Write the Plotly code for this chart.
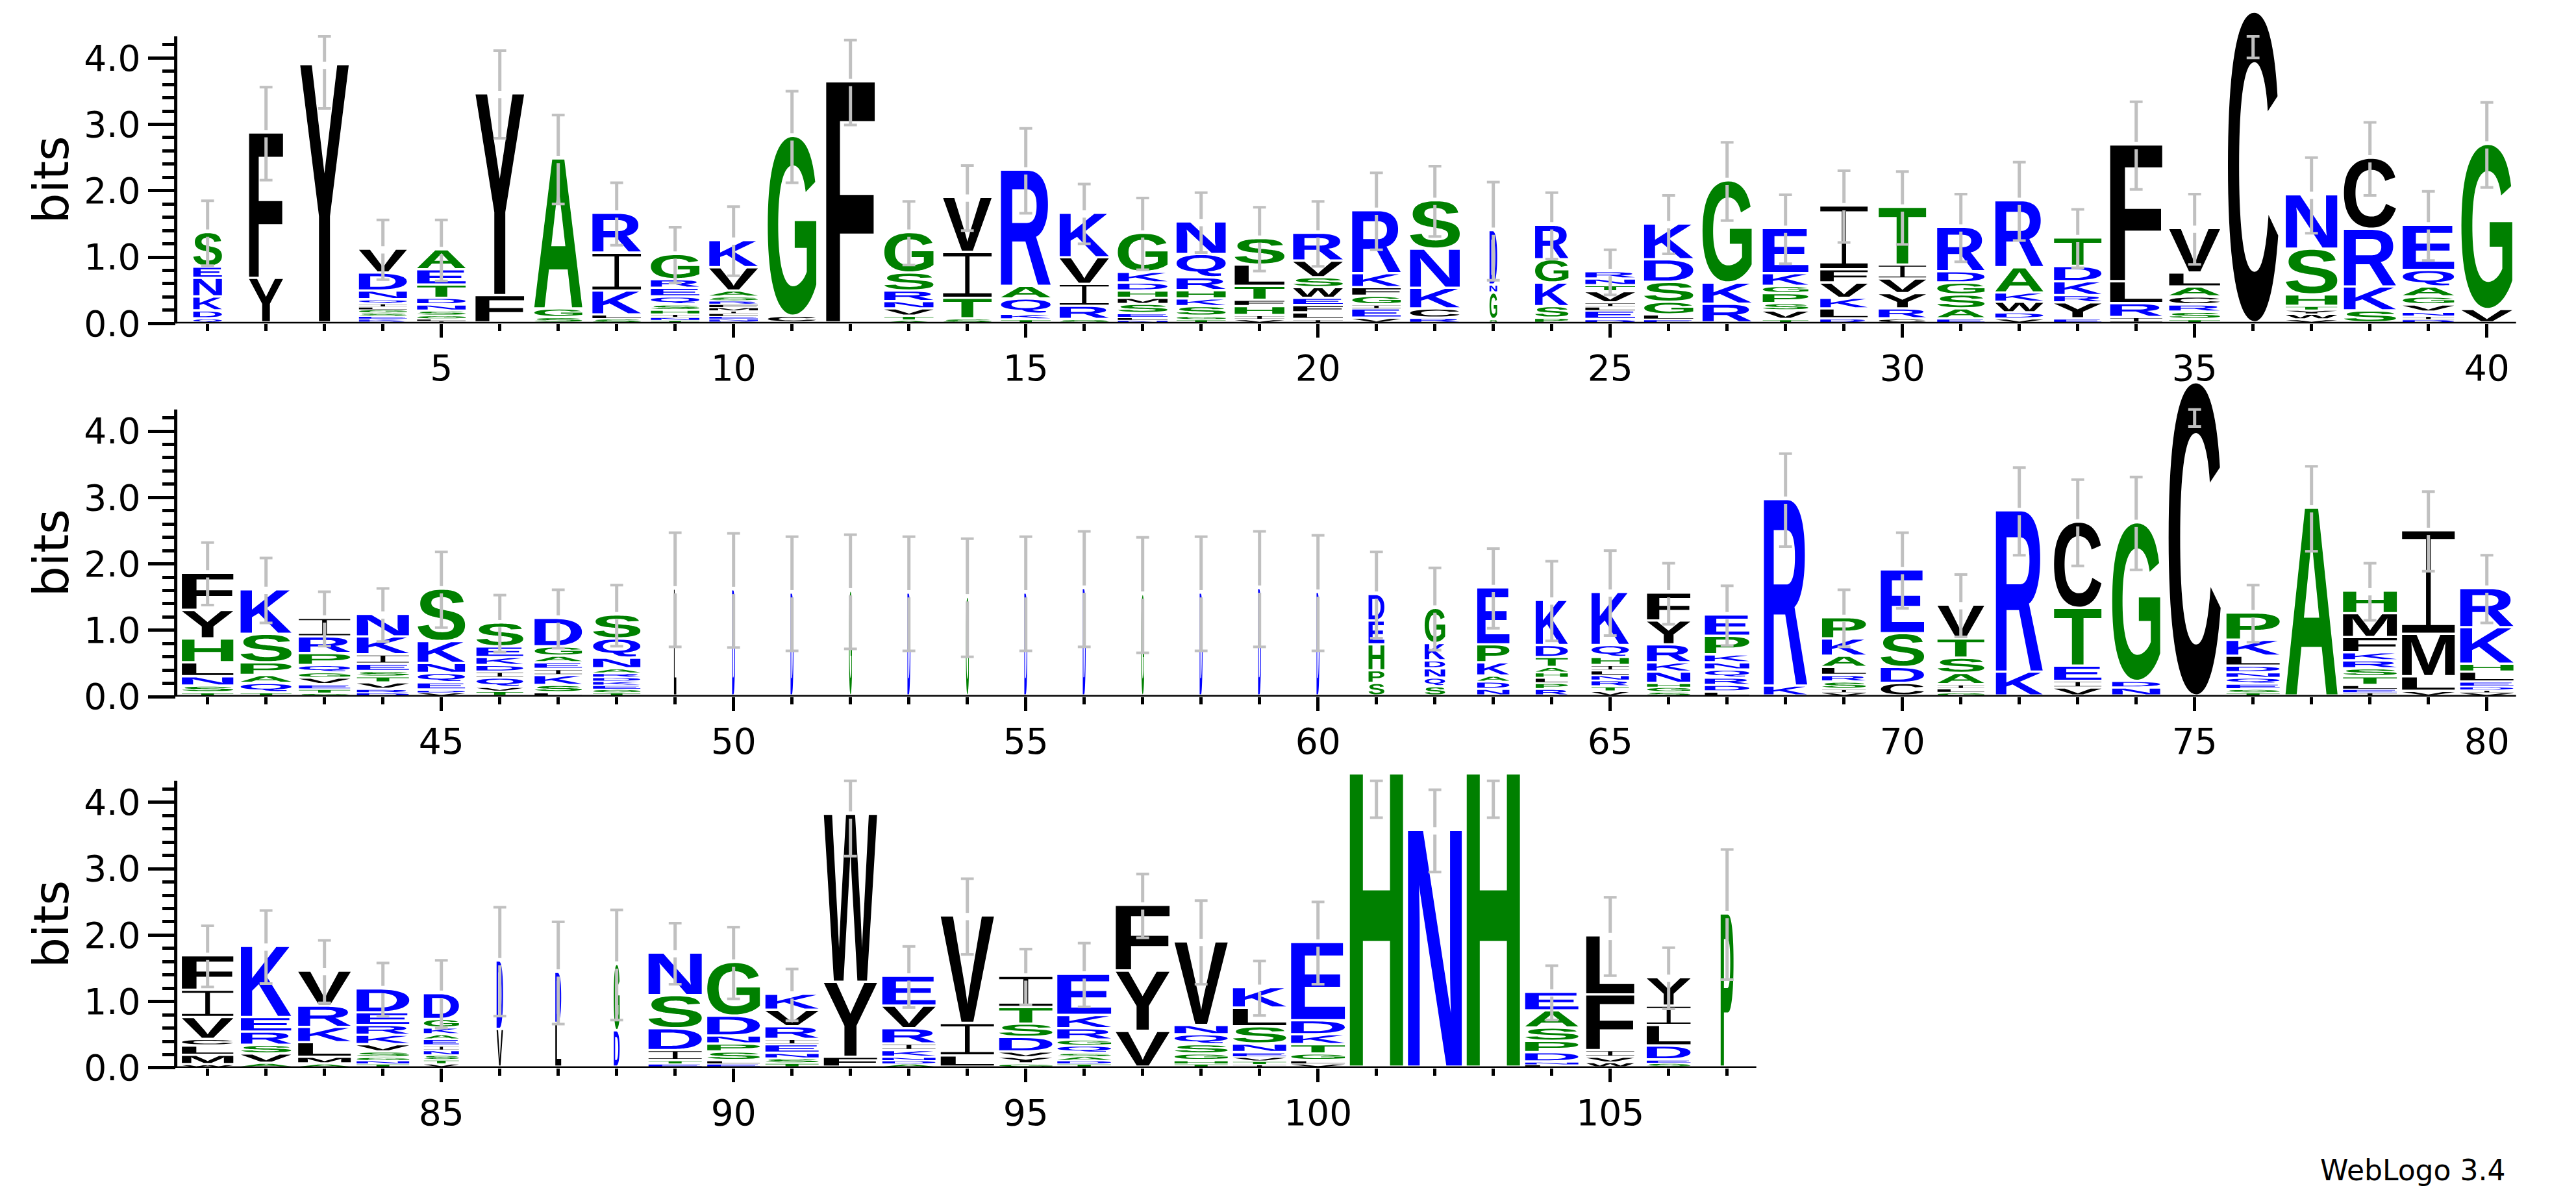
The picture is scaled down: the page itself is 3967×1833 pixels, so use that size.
import glob
import os
import struct
import plotly.graph_objects as go

# ------------------------------------------------------------------ data
positions = list(range(1, 108))

# letters of each stack, bottom -> top
stack_letters = [
    "QDKNES", "YF", "Y", "RKESGLIQNDV", "ILGSNDTEA", "FY", "SGA", "SLKIR", "TNIHSQERG", "DNELIMFRSAVK",
    "CG", "F", "ATVNRSG", "STIV", "TKQAR", "SRIVK", "NLESMHDKG", "TGSKHRQN", "VIHFTLS", "ILFEWSVR",
    "VEIGFKR", "RCKNS", "SGND", "PSKGR", "DELIVTNR", "ELGSDK", "RKG", "TVSPGKE", "RLKVFI", "CRYVIT",
    "EASGDR", "VDWKAR", "EYRKDT", "IRLF", "TSRCALV", "C", "VWYTHSN", "SKRC", "DINVGAQE", "VG",
    "TSNLHYF", "TQAPSK", "STEVGQPRI", "DRVTSEIKN", "VDEQNKS", "TVQIDKES", "LSKIEAGD", "TGEKDRANQS", "L", "D",
    "D", "G", "D", "G", "D", "D", "G", "D", "D", "D",
    "SPHED", "SQNDKG", "NDAKPE", "RPLHATDK", "VTRNLIHQK", "SGHNKRYF", "LDRQNKPE", "KR", "VISRLAKP", "CDSE",
    "GLIASTV", "KR", "VIETC", "NDG", "C", "TSEQNDLKP", "A", "IELTSRKFMH", "VLMI", "VIDELHKR",
    "WMLCVIF", "AVSREK", "AMLKRV", "TNGSVKRED", "VTSNIEAKGD", "VD", "LD", "DG", "ETIDSN", "ELSPNDG",
    "TSNEIRVK", "FYW", "ADNKIRVE", "LIV", "GYVDSTI", "TDASQGRKE", "VYF", "THGSQNV", "ITVENSLK", "VLGTKDE",
    "H", "N", "H", "LNDPSAE", "WVIFL", "SEDLIY", "P",
]

# letter heights in bits, bottom -> top
stack_heights = [
    [.06, .12, .21, .28, .17, .52], [.67, 2.19], [3.89],
    [.03, .03, .04, .05, .05, .04, .05, .06, .13, .27, .36], [.03, .03, .05, .07, .09, .10, .20, .23, .30],
    [.41, 3.04], [.08, .13, 2.26], [.06, .06, .36, .57, .60], [.04, .04, .05, .06, .08, .12, .13, .13, .38],
    [.03, .03, .04, .04, .04, .05, .05, .05, .06, .09, .35, .41],
    [.10, 2.71], [3.63], [.04, .06, .11, .11, .16, .27, .61], [.06, .31, .69, .83], [.05, .08, .23, .19, 1.75],
    [.05, .20, .33, .40, .67], [.04, .04, .06, .14, .09, .11, .12, .16, .59],
    [.05, .05, .145, .115, .125, .195, .35, .49], [.05, .06, .135, .095, .21, .32, .40],
    [.05, .10, .11, .11, .16, .15, .25, .42],
    [.07, .14, .06, .13, .13, .21, .95], [.07, .14, .31, .59, .73], [.05, .40, .12, .82],
    [.07, .175, .355, .35, .52], [.05, .13, .06, .06, .17, .09, .10, .11], [.05, .07, .19, .30, .34, .54],
    [.28, .32, 1.54], [.05, .13, .11, .15, .11, .19, .68], [.06, .15, .16, .23, .20, .96],
    [.06, .15, .23, .22, .21, .87],
    [.06, .15, .21, .18, .17, .67], [.06, .09, .16, .14, .38, 1.01], [.06, .24, .11, .21, .23, .43],
    [.08, .21, .33, 2.06], [.05, .11, .11, .12, .15, .21, .67], [4.68], [.05, .08, .06, .06, .17, .69, .82],
    [.18, .36, .87, 1.07], [.05, .05, .06, .11, .12, .15, .25, .68], [.20, 2.49],
    [.05, .10, .14, .21, .36, .43, .56], [.05, .14, .12, .19, .43, .67],
    [.04, .06, .07, .10, .08, .11, .18, .25, .28], [.05, .05, .10, .09, .08, .11, .14, .27, .34],
    [.05, .04, .11, .14, .15, .33, .79], [.07, .06, .14, .09, .10, .12, .16, .36],
    [.05, .11, .15, .09, .10, .10, .14, .43], [.05, .05, .06, .06, .06, .06, .07, .16, .29, .36],
    [1.61], [1.60],
    [1.55], [1.58], [1.55], [1.49], [1.55], [1.62], [1.53], [1.55], [1.62], [1.56],
    [.19, .19, .39, .36, .40], [.14, .13, .14, .12, .26, .53], [.10, .11, .09, .20, .27, .86],
    [.10, .09, .08, .08, .08, .15, .18, .68], [.07, .07, .09, .08, .07, .08, .12, .18, .80],
    [.06, .07, .06, .17, .14, .27, .36, .42], [.06, .10, .11, .12, .11, .12, .28, .32], [.15, 2.81],
    [.05, .05, .11, .10, .12, .17, .26, .32], [.19, .24, .51, .96],
    [.05, .06, .06, .17, .23, .29, .51], [.36, 2.43], [.12, .10, .23, .87, 1.30], [.12, .10, 2.39], [4.72],
    [.05, .05, .08, .09, .08, .10, .15, .24, .41], [2.83], [.05, .05, .06, .13, .12, .12, .12, .23, .36, .34],
    [.07, .22, .64, 1.56], [.05, .04, .05, .07, .15, .12, .55, .59],
    [.04, .14, .14, .10, .33, .41, .52], [.06, .14, .13, .20, .22, 1.07], [.05, .10, .22, .23, .32, .53],
    [.05, .05, .05, .08, .11, .14, .15, .19, .36], [.05, .06, .07, .07, .07, .10, .07, .10, .13, .39],
    [.57, 1.03], [.66, .77], [.55, 1.00], [.05, .05, .15, .33, .50, .64], [.05, .05, .13, .12, .12, .30, .81],
    [.06, .07, .08, .13, .08, .19, .25, .24], [.15, 1.13, 2.53], [.05, .05, .05, .10, .10, .23, .34, .45],
    [.17, .49, 1.62], [.05, .10, .08, .22, .20, .25, .47], [.05, .05, .06, .05, .11, .09, .17, .20, .62],
    [.54, .91, .99], [.05, .05, .10, .14, .15, .14, 1.26], [.04, .05, .06, .07, .13, .26, .28, .31],
    [.05, .05, .10, .14, .15, .21, 1.18],
    [4.42], [3.57], [4.42], [.04, .04, .14, .17, .20, .26, .28], [.07, .08, .10, .84, .89],
    [.06, .05, .21, .31, .29, .43], [2.31],
]

# half-length of the error bar at each position (bits)
error_bars = [
    .49, .70, .65, .45, .46, .66, .67, .47, .42, .52,
    .69, .64, .48, .49, .64, .45, .54, .45, .48, .49,
    .58, .53, .74, .50, .34, .44, .59, .52, .54, .55,
    .51, .59, .44, .66, .53, .68, .57, .55, .52, .64,
    .47, .49, .41, .40, .57, .43, .44, .46, .86, .86,
    .86, .86, .86, .89, .86, .87, .87, .86, .87, .87,
    .65, .62, .60, .60, .64, .46, .45, .70, .43, .57,
    .47, .66, .65, .70, .65, .43, .64, .43, .60, .51,
    .46, .55, .47, .40, .51, .82, .77, .83, .46, .54,
    .39, .62, .46, .57, .42, .48, .48, .63, .41, .62,
    .65, .62, .65, .41, .59, .46, .98,
]

# stack width (fraction of one position) - scaled by occupancy
column_widths = [
    .49, .58, .83, .82, .83, .83, .82, .83, .83, .83,
    .83, .83, .84, .83, .85, .84, .85, .84, .85, .85,
    .83, .85, .13, .57, .85, .84, .84, .78, .81, .81,
    .81, .82, .81, .89, .87, .86, .88, .89, .88, .87,
    .88, .87, .88, .89, .81, .80, .81, .81, .04, .05,
    .05, .05, .05, .05, .05, .05, .05, .05, .05, .05,
    .27, .35, .55, .55, .64, .74, .76, .74, .75, .74,
    .80, .80, .81, .82, .89, .91, .89, .92, .90, .91,
    .88, .86, .90, .90, .60, .11, .10, .10, .91, .90,
    .91, .91, .91, .91, .91, .92, .92, .91, .91, .92,
    .91, .92, .91, .91, .82, .75, .22,
]

row_ranges = [(1, 40), (41, 80), (81, 107)]
y_ticks = [0, 1, 2, 3, 4]
y_tick_text = ["0.0", "1.0", "2.0", "3.0", "4.0"]
y_minor_ticks = [0.2, 0.4, 0.6, 0.8, 1.2, 1.4, 1.6, 1.8, 2.2, 2.4, 2.6, 2.8, 3.2, 3.4, 3.6, 3.8, 4.2]
max_bits = 4.325

# ------------------------------------------------------------------ styling
BLACK, BLUE, GREEN = "#000000", "#0000FF", "#008000"
ERR_GRAY = "#C0C0C0"
color_of = {}
for ch in "FYVILCWM":
    color_of[ch] = BLACK
for ch in "KRDENQ":
    color_of[ch] = BLUE
for ch in "STGAHP":
    color_of[ch] = GREEN

AXIS_FONT = "DejaVu Sans"


# ------------------------------------------------------------------ glyph outlines (from an installed bold sans font)
def find_font():
    pats = [
        "/usr/share/fonts/**/LiberationSans-Bold.ttf",
        "/usr/local/share/fonts/**/LiberationSans-Bold.ttf",
        "/usr/share/fonts/**/Arimo-Bold.ttf",
        "/usr/share/fonts/**/DejaVuSans-Bold.ttf",
        "/usr/share/fonts/**/Roboto-Bold.ttf",
    ]
    for pat in pats:
        found = sorted(glob.glob(pat, recursive=True))
        if found:
            return found[0]
    return None


def read_ttf(path, chars):
    d = open(path, "rb").read()
    base = 0
    if d[:4] == b"ttcf":
        base = struct.unpack(">I", d[12:16])[0]
    ntab = struct.unpack(">H", d[base + 4:base + 6])[0]
    tabs = {}
    for k in range(ntab):
        rec = base + 12 + 16 * k
        tag, _c, off, _l = struct.unpack(">4sIII", d[rec:rec + 16])
        tabs[tag] = off
    if b"glyf" not in tabs:
        return None
    head = tabs[b"head"]
    locfmt = struct.unpack(">h", d[head + 50:head + 52])[0]
    maxp = tabs[b"maxp"]
    ng = struct.unpack(">H", d[maxp + 4:maxp + 6])[0]
    lo = tabs[b"loca"]
    if locfmt == 0:
        loca = [2 * v for v in struct.unpack(">%dH" % (ng + 1), d[lo:lo + 2 * (ng + 1)])]
    else:
        loca = list(struct.unpack(">%dI" % (ng + 1), d[lo:lo + 4 * (ng + 1)]))
    glyf = tabs[b"glyf"]

    # cmap (format 4)
    cm = tabs[b"cmap"]
    nsub = struct.unpack(">H", d[cm + 2:cm + 4])[0]
    cmap = {}
    for k in range(nsub):
        pid, eid, off = struct.unpack(">HHI", d[cm + 4 + 8 * k:cm + 12 + 8 * k])
        st = cm + off
        fmt = struct.unpack(">H", d[st:st + 2])[0]
        if fmt != 4:
            continue
        segx2 = struct.unpack(">H", d[st + 6:st + 8])[0]
        seg = segx2 // 2
        ends = struct.unpack(">%dH" % seg, d[st + 14:st + 14 + segx2])
        starts = struct.unpack(">%dH" % seg, d[st + 16 + segx2:st + 16 + 2 * segx2])
        deltas = struct.unpack(">%dh" % seg, d[st + 16 + 2 * segx2:st + 16 + 3 * segx2])
        rpos = st + 16 + 3 * segx2
        roffs = struct.unpack(">%dH" % seg, d[rpos:rpos + segx2])
        for ch in chars:
            code = ord(ch)
            for s in range(seg):
                if starts[s] <= code <= ends[s]:
                    if roffs[s] == 0:
                        g = (code + deltas[s]) & 0xFFFF
                    else:
                        addr = rpos + 2 * s + roffs[s] + 2 * (code - starts[s])
                        g = struct.unpack(">H", d[addr:addr + 2])[0]
                        if g:
                            g = (g + deltas[s]) & 0xFFFF
                    cmap[ch] = g
                    break
        if cmap:
            break

    def outline(gid, depth=0):
        start = glyf + loca[gid]
        stop = glyf + loca[gid + 1]
        if stop <= start or depth > 4:
            return []
        nc = struct.unpack(">h", d[start:start + 2])[0]
        p = start + 10
        if nc < 0:
            out = []
            while True:
                fl, cg = struct.unpack(">HH", d[p:p + 4])
                p += 4
                if fl & 1:
                    a1, a2 = struct.unpack(">hh", d[p:p + 4])
                    p += 4
                else:
                    a1, a2 = struct.unpack(">bb", d[p:p + 2])
                    p += 2
                sx = sy = 1.0
                if fl & 8:
                    sx = sy = struct.unpack(">h", d[p:p + 2])[0] / 16384.0
                    p += 2
                elif fl & 0x40:
                    sx, sy = [v / 16384.0 for v in struct.unpack(">hh", d[p:p + 4])]
                    p += 4
                elif fl & 0x80:
                    vals = struct.unpack(">hhhh", d[p:p + 8])
                    p += 8
                    sx, sy = vals[0] / 16384.0, vals[3] / 16384.0
                dx, dy = (a1, a2) if fl & 2 else (0, 0)
                for c in outline(cg, depth + 1):
                    out.append([(x * sx + dx, y * sy + dy, on) for x, y, on in c])
                if not fl & 0x20:
                    break
            return out
        ends = struct.unpack(">%dH" % nc, d[p:p + 2 * nc])
        p += 2 * nc
        il = struct.unpack(">H", d[p:p + 2])[0]
        p += 2 + il
        npts = ends[-1] + 1
        flags = []
        while len(flags) < npts:
            f = d[p]
            p += 1
            flags.append(f)
            if f & 8:
                r = d[p]
                p += 1
                flags.extend([f] * r)
        flags = flags[:npts]
        xs, v = [], 0
        for f in flags:
            if f & 2:
                dv = d[p]
                p += 1
                v += dv if f & 16 else -dv
            elif not f & 16:
                v += struct.unpack(">h", d[p:p + 2])[0]
                p += 2
            xs.append(v)
        ys, v = [], 0
        for f in flags:
            if f & 4:
                dv = d[p]
                p += 1
                v += dv if f & 32 else -dv
            elif not f & 32:
                v += struct.unpack(">h", d[p:p + 2])[0]
                p += 2
            ys.append(v)
        out, s = [], 0
        for e in ends:
            out.append([(xs[i], ys[i], flags[i] & 1) for i in range(s, e + 1)])
            s = e + 1
        return out

    res = {}
    for ch in chars:
        if ch in cmap:
            res[ch] = outline(cmap[ch])
    return res


def flatten(contour, steps):
    if len(contour) < 2:
        return []
    start = None
    for i, (_x, _y, on) in enumerate(contour):
        if on:
            start = i
            break
    if start is None:
        x0 = (contour[0][0] + contour[1][0]) / 2.0
        y0 = (contour[0][1] + contour[1][1]) / 2.0
        contour = [(x0, y0, 1)] + contour[1:] + [contour[0]]
        start = 0
    seq = contour[start:] + contour[:start]
    out = [(seq[0][0], seq[0][1])]
    cur = (seq[0][0], seq[0][1])
    ctrl = None

    def quad(a, c, b):
        for k in range(1, steps + 1):
            t = k / float(steps)
            mt = 1 - t
            out.append((mt * mt * a[0] + 2 * mt * t * c[0] + t * t * b[0],
                        mt * mt * a[1] + 2 * mt * t * c[1] + t * t * b[1]))

    for x, y, on in seq[1:] + [seq[0]]:
        if on:
            if ctrl is None:
                out.append((x, y))
            else:
                quad(cur, ctrl, (x, y))
                ctrl = None
            cur = (x, y)
        else:
            if ctrl is None:
                ctrl = (x, y)
            else:
                mid = ((ctrl[0] + x) / 2.0, (ctrl[1] + y) / 2.0)
                quad(cur, ctrl, mid)
                cur = mid
                ctrl = (x, y)
    return out


def normalise(polys):
    polys = [p for p in polys if len(p) >= 3]
    if not polys:
        return [[(0, 0), (1, 0), (1, 1), (0, 1)]]
    xs = [x for p in polys for x, _ in p]
    ys = [y for p in polys for _, y in p]
    x0, x1, y0, y1 = min(xs), max(xs), min(ys), max(ys)
    w = (x1 - x0) or 1.0
    h = (y1 - y0) or 1.0
    return [[((x - x0) / w, (y - y0) / h) for x, y in p] for p in polys]


ALPHABET = "ACDEFGHIKLMNPQRSTVWY"
I_SHAPE = [[(0, 0), (1, 0), (1, .075), (.545, .075), (.545, .925), (1, .925), (1, 1), (0, 1),
            (0, .925), (.455, .925), (.455, .075), (0, .075)]]
glyph_hi, glyph_lo = {}, {}
raw = None
fpath = find_font()
if fpath:
    try:
        raw = read_ttf(fpath, ALPHABET)
    except Exception:
        raw = None
for ch in ALPHABET:
    if raw and raw.get(ch):
        glyph_hi[ch] = normalise([flatten(c, 10) for c in raw[ch]])
        glyph_lo[ch] = normalise([flatten(c, 3) for c in raw[ch]])
    else:
        glyph_hi[ch] = glyph_lo[ch] = [[(0, 0), (1, 0), (1, 1), (0, 1)]]
glyph_hi["I"] = glyph_lo["I"] = I_SHAPE

# ------------------------------------------------------------------ figure
W, H = 3967, 1833
x_dom_full = [262.6 / W, 3866.7 / W]
x_dom_short = [262.6 / W, 2696.7 / W]
y_doms = [[1 - 499.0 / H, 1.0], [1 - 1084.0 / H, 1 - 585.0 / H], [1 - 1666.0 / H, 1 - 1167.0 / H]]
y_top = 4.795

fig = go.Figure()
axis_ids = [("x", "y"), ("x2", "y2"), ("x3", "y3")]
gap = 0.055

for r, ((p_lo, p_hi), (xa, ya)) in enumerate(zip(row_ranges, axis_ids)):
    buckets = {BLACK: ([], []), BLUE: ([], []), GREEN: ([], [])}
    ex, ey, cx, cy = [], [], [], []
    for p in range(p_lo, p_hi + 1):
        i = positions.index(p)
        w = column_widths[i]
        x0, x1 = p - w / 2.0, p + w / 2.0
        base = 0.0
        for ch, h in zip(stack_letters[i], stack_heights[i]):
            pad = min(0.035, 0.35 * h)
            yb, yt = base + pad, base + h
            shapes = glyph_hi[ch] if h > 0.3 else glyph_lo[ch]
            bx, by = buckets[color_of[ch]]
            for poly in shapes:
                for u, v in poly:
                    bx.append(x0 + u * (x1 - x0))
                    by.append(yb + v * (yt - yb))
                bx.append(None)
                by.append(None)
            base += h
        top = base
        e = error_bars[i]
        lo_end, hi_end = top - e, min(top + e, max_bits)
        seg1_top = min(top - gap, max_bits)
        if seg1_top > lo_end:
            ex += [p, p, None]
            ey += [lo_end, seg1_top, None]
        if hi_end > top + gap:
            ex += [p, p, None]
            ey += [top + gap, hi_end, None]
        for yy in (lo_end, hi_end):
            cx += [p - 0.11, p + 0.11, None]
            cy += [yy, yy, None]
    for col, (bx, by) in buckets.items():
        fig.add_trace(go.Scatter(x=bx, y=by, mode="none", fill="toself", fillcolor=col,
                                 xaxis=xa, yaxis=ya, hoverinfo="skip", showlegend=False))
    fig.add_trace(go.Scatter(x=ex, y=ey, mode="lines", line=dict(color=ERR_GRAY, width=5),
                             xaxis=xa, yaxis=ya, hoverinfo="skip", showlegend=False))
    fig.add_trace(go.Scatter(x=cx, y=cy, mode="lines", line=dict(color=ERR_GRAY, width=4),
                             xaxis=xa, yaxis=ya, hoverinfo="skip", showlegend=False))

layout = dict(
    width=W, height=H, margin=dict(l=0, r=0, t=0, b=0),
    paper_bgcolor="white", plot_bgcolor="white", showlegend=False,
)
shapes, annotations = [], []
for r, ((p_lo, p_hi), (xa, ya)) in enumerate(zip(row_ranges, axis_ids)):
    xkey = "xaxis" if r == 0 else "xaxis%d" % (r + 1)
    ykey = "yaxis" if r == 0 else "yaxis%d" % (r + 1)
    layout[xkey] = dict(
        domain=x_dom_short if r == 2 else x_dom_full,
        range=[p_lo - 0.5456, p_hi + 0.5], anchor=ya,
        tickmode="linear", tick0=0, dtick=5,
        ticks="outside", ticklen=21, tickwidth=5, tickcolor="black",
        minor=dict(tickmode="linear", tick0=0, dtick=1, ticks="outside", ticklen=11,
                   tickwidth=5, tickcolor="black", showgrid=False),
        showline=False, showgrid=False, zeroline=False,
        tickfont=dict(family=AXIS_FONT, size=55, color="black"),
    )
    layout[ykey] = dict(
        domain=y_doms[r], range=[0, y_top], anchor=xa,
        tickmode="array", tickvals=y_ticks, ticktext=y_tick_text,
        ticks="outside", ticklen=42, tickwidth=5, tickcolor="black",
        minor=dict(tickmode="array", tickvals=y_minor_ticks, ticks="outside", ticklen=20,
                   tickwidth=5, tickcolor="black", showgrid=False),
        showline=False, showgrid=False, zeroline=False,
        tickfont=dict(family=AXIS_FONT, size=55, color="black"),
    )
    shapes.append(dict(type="line", xref=xa + " domain", yref=ya, x0=0, x1=0, y0=-0.025, y1=max_bits,
                       line=dict(color="black", width=5)))
    shapes.append(dict(type="line", xref=xa + " domain", yref=ya, x0=0, x1=1, y0=0, y1=0,
                       line=dict(color="black", width=5)))
    annotations.append(dict(text="bits", xref="paper", yref=ya, x=71.0 / W, y=2.16, textangle=-90,
                            showarrow=False, xanchor="center", yanchor="middle",
                            font=dict(family=AXIS_FONT, size=74, color="black")))
annotations.append(dict(text="WebLogo 3.4", xref="paper", yref="paper", x=3852.0 / W, y=1 - 1826.0 / H,
                        showarrow=False, xanchor="right", yanchor="middle",
                        font=dict(family=AXIS_FONT, size=44, color="black")))
layout["shapes"] = shapes
layout["annotations"] = annotations
fig.update_layout(**layout)

fig.write_html("out.html")
